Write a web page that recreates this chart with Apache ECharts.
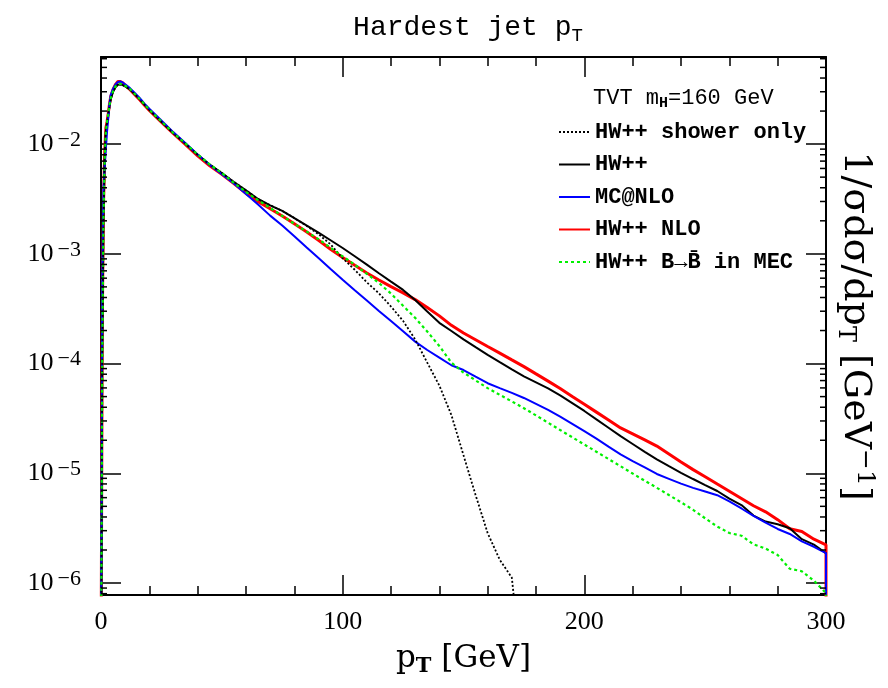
<!DOCTYPE html>
<html>
<head>
    <meta charset="utf-8" />
    <title>Hardest jet pT</title>
    <script src="https://cdn.jsdelivr.net/npm/echarts@6.0.0/dist/echarts.min.js"></script>
    <style>
        html, body { margin: 0; padding: 0; background: #fff; }
        #main { width: 888px; height: 688px; }
    </style>
</head>
<body>
    <div id="main"></div>
    <script type="text/javascript">
        // bin centres (GeV) shared by all histograms, last entry closes the histogram at 300
        var pT = [0, 0.5, 1, 1.5, 2, 2.5, 3, 3.5, 4, 5, 6, 7, 8, 9, 10,
            12, 14, 16, 18,
            20, 25, 30, 35, 40, 45, 50,
            55, 60, 65, 70, 75, 80, 85, 90, 95, 100,
            105, 110, 115, 120, 125, 130, 135, 140, 145, 150,
            155, 160, 165, 170, 175, 180, 185, 190, 195, 200,
            205, 210, 215, 220, 225, 230, 235, 240, 245, 250,
            255, 260, 265, 270, 275, 280, 285, 290, 295, 300,
            300];

        var showerOnly = [1e-7, 1e-4, 2e-3, 7e-3, 1.3e-2, 1.55e-2, 1.85e-2, 2.2e-2, 2.55e-2, 3.0e-2, 3.3e-2, 3.48e-2, 3.5e-2, 3.45e-2, 3.35e-2,
            3.16e-2, 2.85e-2, 2.57e-2, 2.29e-2,
            2.05e-2, 1.60e-2, 1.256e-2, 1.005e-2, 8.0e-3, 6.5e-3, 5.45e-3,
            4.52e-3, 3.79e-3, 3.16e-3, 2.77e-3, 2.46e-3, 2.12e-3, 1.80e-3, 1.51e-3, 1.22e-3, 9.12e-4,
            7.16e-4, 5.50e-4, 4.37e-4, 3.31e-4, 2.45e-4, 1.66e-4, 1.02e-4, 6.31e-5, 3.39e-5, 1.46e-5,
            6.34e-6, 2.85e-6, 1.63e-6, 1.12e-6, 1e-7, null, null, null, null, null,
            null, null, null, null, null, null, null, null, null, null,
            null, null, null, null, null, null, null, null, null, null,
            null];

        var hwpp = [1e-7, 1e-4, 2e-3, 7e-3, 1.3e-2, 1.55e-2, 1.85e-2, 2.2e-2, 2.55e-2, 3.0e-2, 3.3e-2, 3.48e-2, 3.5e-2, 3.45e-2, 3.35e-2,
            3.16e-2, 2.85e-2, 2.57e-2, 2.29e-2,
            2.05e-2, 1.60e-2, 1.256e-2, 1.005e-2, 8.0e-3, 6.5e-3, 5.45e-3,
            4.52e-3, 3.79e-3, 3.16e-3, 2.77e-3, 2.46e-3, 2.12e-3, 1.82e-3, 1.56e-3, 1.33e-3, 1.13e-3,
            9.5e-4, 7.98e-4, 6.65e-4, 5.58e-4, 4.69e-4, 3.80e-4, 2.98e-4, 2.35e-4, 1.98e-4, 1.66e-4,
            1.41e-4, 1.20e-4, 1.03e-4, 8.85e-5, 7.66e-5, 6.75e-5, 5.94e-5, 5.14e-5, 4.36e-5, 3.70e-5,
            3.10e-5, 2.60e-5, 2.18e-5, 1.85e-5, 1.57e-5, 1.34e-5, 1.16e-5, 1.01e-5, 8.87e-6, 7.82e-6,
            6.90e-6, 5.87e-6, 5.13e-6, 4.12e-6, 3.63e-6, 3.43e-6, 3.16e-6, 2.51e-6, 2.24e-6, 1.87e-6,
            1e-7];

        var mcAtNlo = [1e-7, 5e-4, 4e-3, 6e-3, 9e-3, 1.3e-2, 1.7e-2, 2.3e-2, 2.8e-2, 3.2e-2, 3.5e-2, 3.68e-2, 3.72e-2, 3.65e-2, 3.5e-2,
            3.24e-2, 2.92e-2, 2.63e-2, 2.34e-2,
            2.10e-2, 1.64e-2, 1.28e-2, 1.016e-2, 8.04e-3, 6.46e-3, 5.31e-3,
            4.37e-3, 3.51e-3, 2.81e-3, 2.23e-3, 1.81e-3, 1.445e-3, 1.15e-3, 9.18e-4, 7.29e-4, 5.82e-4,
            4.66e-4, 3.75e-4, 3.02e-4, 2.44e-4, 1.97e-4, 1.585e-4, 1.33e-4, 1.135e-4, 9.66e-5, 8.73e-5,
            7.60e-5, 6.62e-5, 5.98e-5, 5.41e-5, 4.86e-5, 4.29e-5, 3.78e-5, 3.28e-5, 2.82e-5, 2.42e-5,
            2.07e-5, 1.75e-5, 1.49e-5, 1.29e-5, 1.13e-5, 9.86e-6, 8.91e-6, 8.05e-6, 7.36e-6, 6.82e-6,
            6.32e-6, 5.56e-6, 4.78e-6, 4.10e-6, 3.55e-6, 3.11e-6, 2.80e-6, 2.40e-6, 2.14e-6, 1.87e-6,
            1e-7];

        var hwppNlo = [1e-7, 2e-4, 2.5e-3, 8e-3, 1.4e-2, 1.6e-2, 1.9e-2, 2.3e-2, 2.7e-2, 3.15e-2, 3.5e-2, 3.72e-2, 3.72e-2, 3.62e-2, 3.45e-2,
            3.13e-2, 2.82e-2, 2.54e-2, 2.26e-2,
            2.03e-2, 1.585e-2, 1.245e-2, 9.9e-3, 7.82e-3, 6.34e-3, 5.31e-3,
            4.37e-3, 3.55e-3, 2.99e-3, 2.58e-3, 2.21e-3, 1.88e-3, 1.59e-3, 1.33e-3, 1.10e-3, 9.25e-4,
            7.87e-4, 6.70e-4, 5.78e-4, 5.02e-4, 4.41e-4, 3.83e-4, 3.24e-4, 2.72e-4, 2.23e-4, 1.90e-4,
            1.65e-4, 1.43e-4, 1.245e-4, 1.08e-4, 9.38e-5, 8.05e-5, 6.92e-5, 5.92e-5, 5.01e-5, 4.26e-5,
            3.61e-5, 3.06e-5, 2.59e-5, 2.29e-5, 2.02e-5, 1.77e-5, 1.50e-5, 1.27e-5, 1.08e-5, 9.29e-6,
            7.98e-6, 6.86e-6, 5.89e-6, 5.06e-6, 4.46e-6, 3.78e-6, 3.12e-6, 2.95e-6, 2.51e-6, 2.23e-6,
            1e-7];

        var bToBbar = [1e-7, 1e-4, 2e-3, 7e-3, 1.3e-2, 1.6e-2, 1.9e-2, 2.25e-2, 2.6e-2, 3.05e-2, 3.35e-2, 3.52e-2, 3.55e-2, 3.5e-2, 3.4e-2,
            3.18e-2, 2.86e-2, 2.58e-2, 2.3e-2,
            2.06e-2, 1.61e-2, 1.26e-2, 1.01e-2, 8.05e-3, 6.52e-3, 5.45e-3,
            4.43e-3, 3.66e-3, 3.08e-3, 2.62e-3, 2.22e-3, 1.88e-3, 1.60e-3, 1.36e-3, 1.135e-3, 9.5e-4,
            7.94e-4, 6.58e-4, 5.43e-4, 4.34e-4, 3.36e-4, 2.61e-4, 1.96e-4, 1.445e-4, 1.02e-4, 8.28e-5,
            7.03e-5, 5.97e-5, 5.19e-5, 4.52e-5, 3.92e-5, 3.37e-5, 2.89e-5, 2.48e-5, 2.13e-5, 1.83e-5,
            1.57e-5, 1.35e-5, 1.16e-5, 9.95e-6, 8.55e-6, 7.38e-6, 6.34e-6, 5.45e-6, 4.65e-6, 3.89e-6,
            3.27e-6, 2.86e-6, 2.70e-6, 2.25e-6, 2.06e-6, 1.80e-6, 1.35e-6, 1.28e-6, 1.05e-6, 8.1e-7,
            1e-7];

        var seriesNames = ['HW++ shower only', 'HW++', 'MC@NLO', 'HW++ NLO', 'HW++ B\u2192B\u0304 in MEC'];

        // y axis range and minor tick decades
        var yMin = 7.78e-7, yMax = 0.0622;
        var minorDecades = [-7, -6, -5, -4, -3, -2];
        var minorSteps = [2, 3, 4, 5, 6, 7, 8, 9];

        var minorTicks = [];
        minorDecades.forEach(function (d) {
            minorSteps.forEach(function (m) {
                var v = m * Math.pow(10, d);
                if (v > yMin && v < yMax) minorTicks.push([0, v]);
            });
        });

        function pairs(vals) {
            var out = [];
            pT.forEach(function (x, i) {
                if (vals[i] != null) out.push([x, vals[i]]);
            });
            return out;
        }

        var serifFont = 'DejaVu Serif';
        var monoFont = 'Liberation Mono';
        var numFont = 'Liberation Serif';

        var xAxisBase = {
            type: 'value',
            min: 0,
            max: 300,
            interval: 100,
            axisLine: { onZero: false, lineStyle: { color: '#000', width: 2 } },
            axisTick: { inside: true, length: 20, lineStyle: { color: '#000', width: 1.5 } },
            minorTick: { show: true, splitNumber: 5, length: 9, lineStyle: { color: '#000', width: 1.5 } },
            splitLine: { show: false },
            minorSplitLine: { show: false }
        };

        var yAxisBase = {
            type: 'log',
            logBase: 10,
            min: yMin,
            max: yMax,
            axisLine: { onZero: false, lineStyle: { color: '#000', width: 2 } },
            axisTick: { inside: true, length: 20, lineStyle: { color: '#000', width: 1.5 } },
            minorTick: { show: false },
            splitLine: { show: false }
        };

        var myChart = echarts.init(document.getElementById('main'), null, { renderer: 'canvas' });

        myChart.setOption({
            backgroundColor: '#fff',
            animation: false,
            title: {
                text: 'Hardest jet p{sub|T}',
                left: 463,
                top: 6,
                textAlign: 'center',
                textStyle: {
                    fontFamily: monoFont,
                    fontSize: 28,
                    fontWeight: 'normal',
                    color: '#000',
                    lineHeight: 34,
                    rich: {
                        sub: { fontFamily: monoFont, fontSize: 19, lineHeight: 24, verticalAlign: 'bottom', color: '#000' }
                    }
                }
            },
            legend: {
                data: seriesNames,
                orient: 'vertical',
                left: 558,
                top: 121,
                padding: 0,
                itemWidth: 31,
                itemHeight: 14,
                itemGap: 10.5,
                itemStyle: { opacity: 0, borderWidth: 0 },
                textStyle: {
                    fontFamily: monoFont,
                    fontSize: 22,
                    fontWeight: 'bold',
                    color: '#000',
                    lineHeight: 22
                }
            },
            graphic: [{
                type: 'text',
                left: 593,
                top: 85,
                style: {
                    text: 'TVT m{sub|H}=160 GeV',
                    fontFamily: monoFont,
                    fontSize: 22,
                    fill: '#000',
                    lineHeight: 26,
                    rich: {
                        sub: { fontFamily: monoFont, fontSize: 15, lineHeight: 18, verticalAlign: 'bottom', fill: '#000', fontWeight: 'bold' }
                    }
                }
            }],
            grid: {
                left: 101,
                right: 62,
                top: 57,
                bottom: 93,
                containLabel: false,
                outerBoundsMode: 'none'
            },
            xAxis: [
                Object.assign({}, xAxisBase, {
                    position: 'bottom',
                    name: 'p{sub|T} [GeV]',
                    nameLocation: 'middle',
                    nameGap: 46,
                    nameTextStyle: {
                        fontFamily: serifFont,
                        fontSize: 31,
                        color: '#000',
                        lineHeight: 36,
                        rich: {
                            sub: { fontFamily: serifFont, fontSize: 21, lineHeight: 26, verticalAlign: 'bottom', color: '#000', fontWeight: 'bold' }
                        }
                    },
                    axisLabel: {
                        fontFamily: numFont,
                        fontSize: 26,
                        color: '#000',
                        margin: 14
                    }
                }),
                Object.assign({}, xAxisBase, {
                    position: 'top',
                    axisLabel: { show: false }
                })
            ],
            yAxis: [
                Object.assign({}, yAxisBase, {
                    position: 'left',
                    axisLabel: {
                        margin: 20,
                        color: '#000',
                        fontFamily: numFont,
                        fontSize: 26,
                        lineHeight: 30,
                        showMinLabel: false,
                        showMaxLabel: false,
                        formatter: function (v) {
                            var e = Math.log10(v);
                            var r = Math.round(e);
                            if (Math.abs(e - r) > 0.01) return '';
                            return '10{sup|\u2212' + Math.abs(r) + '}';
                        },
                        rich: {
                            sup: { fontFamily: numFont, fontSize: 22, lineHeight: 16, verticalAlign: 'top', color: '#000', padding: [0, 0, 0, 4] }
                        }
                    }
                }),
                Object.assign({}, yAxisBase, {
                    position: 'right',
                    axisLabel: { show: false },
                    name: '1/\u03c3d\u03c3/dp{sub|T} [GeV{sup|\u22121}]',
                    nameLocation: 'middle',
                    nameRotate: -90,
                    nameGap: 7,
                    nameTextStyle: {
                        fontFamily: serifFont,
                        fontSize: 38,
                        color: '#000',
                        lineHeight: 44,
                        rich: {
                            sub: { fontFamily: serifFont, fontSize: 24, lineHeight: 30, verticalAlign: 'bottom', color: '#000' },
                            sup: { fontFamily: serifFont, fontSize: 25, lineHeight: 20, verticalAlign: 'top', color: '#000' }
                        }
                    }
                })
            ],
            series: [
                {
                    name: seriesNames[3],
                    type: 'line',
                    data: pairs(hwppNlo),
                    symbol: 'none',
                    clip: true,
                    lineStyle: { color: '#ff0000', width: 3 },
                    itemStyle: { color: '#ff0000' }
                },
                {
                    name: seriesNames[1],
                    type: 'line',
                    data: pairs(hwpp),
                    symbol: 'none',
                    clip: true,
                    lineStyle: { color: '#000000', width: 2 },
                    itemStyle: { color: '#000000' }
                },
                {
                    name: seriesNames[2],
                    type: 'line',
                    data: pairs(mcAtNlo),
                    symbol: 'none',
                    clip: true,
                    lineStyle: { color: '#0000ff', width: 2 },
                    itemStyle: { color: '#0000ff' }
                },
                {
                    name: seriesNames[0],
                    type: 'line',
                    data: pairs(showerOnly),
                    symbol: 'none',
                    clip: true,
                    lineStyle: { color: '#000000', width: 1.8, type: [2, 2] },
                    itemStyle: { color: '#000000' }
                },
                {
                    name: seriesNames[4],
                    type: 'line',
                    data: pairs(bToBbar),
                    symbol: 'none',
                    clip: true,
                    lineStyle: { color: '#00f000', width: 2.2, type: [3, 3] },
                    itemStyle: { color: '#00f000' }
                },
                {
                    // log-spaced minor ticks on both y frames
                    type: 'custom',
                    silent: true,
                    z: 5,
                    data: minorTicks,
                    renderItem: function (params, api) {
                        var cs = params.coordSys;
                        var y = api.coord([0, api.value(1)])[1];
                        var st = { stroke: '#000', lineWidth: 1.5 };
                        return {
                            type: 'group',
                            children: [
                                { type: 'line', shape: { x1: cs.x, y1: y, x2: cs.x + 6, y2: y }, style: st },
                                { type: 'line', shape: { x1: cs.x + cs.width - 6, y1: y, x2: cs.x + cs.width, y2: y }, style: st }
                            ]
                        };
                    }
                }
            ]
        });
    </script>
</body>
</html>
